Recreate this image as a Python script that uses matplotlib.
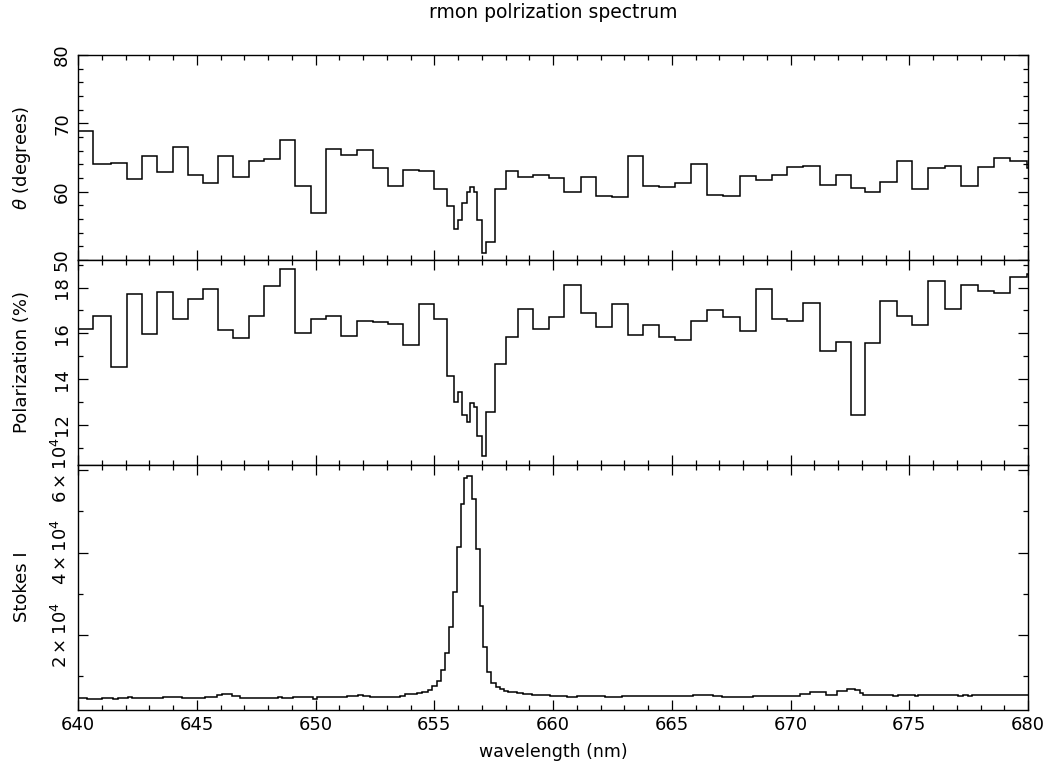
import numpy as np
import matplotlib
matplotlib.use("Agg")
import matplotlib.pyplot as plt
from matplotlib.ticker import MultipleLocator, FixedLocator

# bin edges shared by the polarization angle and degree (nm)
pol_edges = [640.0, 640.65, 641.37, 642.05, 642.71, 643.31, 643.99, 644.62, 645.28, 645.91,
             646.54, 647.2, 647.85, 648.5, 649.14, 649.8, 650.44, 651.07, 651.73, 652.4,
             653.07, 653.70, 654.37, 654.99, 655.52, 655.85, 656.01, 656.18, 656.37, 656.51,
             656.67, 656.81, 657.02, 657.18, 657.56, 658.02, 658.54, 659.17, 659.83, 660.48,
             661.17, 661.81, 662.47, 663.14, 663.80, 664.46, 665.14, 665.82, 666.5, 667.14,
             667.87, 668.53, 669.21, 669.87, 670.54, 671.24, 671.9, 672.53, 673.14, 673.77,
             674.47, 675.13, 675.8, 676.51, 677.17, 677.91, 678.57, 679.24, 679.97, 680.6]

theta = [68.9, 64.05, 64.2, 61.85, 65.2, 62.9, 66.5, 62.5, 61.2, 65.2,
         62.2, 64.5, 64.8, 67.55, 60.8, 56.9, 66.3, 65.35, 66.1, 63.4,
         60.87, 63.2, 63.0, 60.4, 57.95, 54.5, 55.8, 58.4, 59.9, 60.73,
         59.9, 55.85, 50.97, 52.6, 60.4, 63.0, 62.2, 62.5, 62.05, 60.0,
         62.1, 59.4, 59.2, 65.2, 60.87, 60.7, 61.2, 64.05, 59.56, 59.4,
         62.24, 61.7, 62.4, 63.65, 63.7, 61.0, 62.5, 60.6, 60.0, 61.37,
         64.55, 60.4, 63.5, 63.8, 60.87, 63.55, 64.87, 64.55, 63.5]

polarization = [16.2, 16.77, 14.53, 17.71, 15.96, 17.81, 16.62, 17.5, 17.96, 16.13,
                15.78, 16.77, 18.07, 18.8, 16.02, 16.62, 16.77, 15.88, 16.52, 16.48,
                16.43, 15.51, 17.27, 16.61, 14.13, 12.99, 13.43, 12.45, 12.14, 12.95,
                12.8, 11.5, 10.65, 12.55, 14.68, 15.82, 17.06, 16.21, 16.73, 18.12,
                16.87, 16.27, 17.27, 15.92, 16.37, 15.82, 15.69, 16.52, 17.02, 16.73,
                16.11, 17.96, 16.61, 16.55, 17.31, 15.22, 15.63, 12.45, 15.56, 17.42,
                16.77, 16.36, 18.31, 17.06, 18.12, 17.85, 17.75, 18.46, 18.6]

# Stokes I spectrum (step segments)
stokes_edges = [640.0, 640.37, 640.99, 641.49, 641.7, 642.12, 642.26, 643.59, 644.37, 645.35,
                645.84, 646.05, 646.47, 646.82, 648.44, 648.58, 649.07, 649.91, 650.05, 651.34,
                651.8, 652.01, 652.29, 653.56, 653.77, 654.26, 654.47, 654.75, 654.92, 655.1,
                655.27, 655.45, 655.62, 655.78, 655.94, 656.11, 656.25, 656.39, 656.58, 656.76,
                656.93, 657.07, 657.23, 657.38, 657.59, 657.77, 657.94, 658.12, 658.47, 658.75,
                659.1, 659.87, 660.58, 661.0, 662.19, 662.89, 665.91, 666.75, 667.1, 668.43,
                670.4, 670.82, 671.49, 671.97, 672.36, 672.72, 672.93, 673.07, 674.33, 674.54,
                675.24, 675.38, 677.07, 677.28, 677.49, 677.63, 680.0]

stokes_i = [4900, 4580, 4820, 4580, 4820, 5060, 4820, 5060, 4820, 5140,
            5540, 5780, 5300, 4820, 5060, 4820, 5060, 4660, 5060, 5300,
            5620, 5300, 5060, 5300, 5700, 5950, 6350, 6670, 7700, 8900,
            11640, 15580, 22000, 30360, 41370, 51730, 58070, 58480, 53000, 40960,
            27150, 17040, 11160, 8360, 7540, 6920, 6590, 6340, 6020, 5700,
            5460, 5300, 5060, 5300, 5060, 5300, 5620, 5300, 5060, 5300,
            5780, 6190, 5620, 6430, 6990, 6750, 6100, 5540, 5300, 5540,
            5300, 5540, 5300, 5540, 5300, 5540]

wl_ticks = [640, 645, 650, 655, 660, 665, 670, 675, 680]
stokes_ticks = [20000, 40000, 60000]
stokes_ticklabels = [r"$2\times10^{4}$", r"$4\times10^{4}$", r"$6\times10^{4}$"]

plt.rcParams["font.family"] = "DejaVu Sans"
plt.rcParams["mathtext.fontset"] = "dejavusans"

W, H = 1050, 769
fig = plt.figure(figsize=(W / 100, H / 100), dpi=100)

x0, x1 = 78, 1028


def make_ax(ytop, ybot):
    ax = fig.add_axes([x0 / W, 1 - ybot / H, (x1 - x0) / W, (ybot - ytop) / H])
    ax.set_xlim(640, 680)
    ax.xaxis.set_major_locator(FixedLocator(wl_ticks))
    ax.xaxis.set_minor_locator(MultipleLocator(1))
    ax.tick_params(which="both", direction="in", top=True, right=True,
                   width=0.9, labelsize=13, colors="black")
    ax.tick_params(which="major", length=7.5)
    ax.tick_params(which="minor", length=3.8)
    ax.tick_params(axis="y", pad=5)
    ax.tick_params(axis="x", pad=4)
    for s in ax.spines.values():
        s.set_linewidth(1.0)
    return ax


def rotate_ylabels(ax):
    for lab in ax.get_yticklabels():
        lab.set_rotation(90)
        lab.set_va("center")


def pad_range(vals):
    lo, hi = min(vals), max(vals)
    r = hi - lo
    return lo - 0.05 * r, hi + 0.05 * r


# theta panel
ax1 = make_ax(55, 260)
ax1.stairs(theta, pol_edges, baseline=None, color="black", lw=1.1)
ax1.set_ylim(50, 80)
ax1.yaxis.set_major_locator(MultipleLocator(10))
ax1.yaxis.set_minor_locator(MultipleLocator(2))
ax1.tick_params(axis="x", labelbottom=False)
rotate_ylabels(ax1)

# polarization panel
ax2 = make_ax(260, 465)
ax2.stairs(polarization, pol_edges, baseline=None, color="black", lw=1.1)
ax2.set_ylim(*pad_range(polarization))
ax2.yaxis.set_major_locator(MultipleLocator(2))
ax2.yaxis.set_minor_locator(MultipleLocator(1))
ax2.tick_params(axis="x", labelbottom=False)
rotate_ylabels(ax2)

# Stokes I panel
ax3 = make_ax(465, 710)
ax3.stairs(stokes_i, stokes_edges, baseline=None, color="black", lw=1.1)
ax3.set_ylim(*pad_range(stokes_i))
ax3.yaxis.set_major_locator(FixedLocator(stokes_ticks))
ax3.yaxis.set_minor_locator(MultipleLocator(10000))
ax3.set_yticklabels(stokes_ticklabels)
rotate_ylabels(ax3)

# labels
fig.text(553 / W, 1 - 13 / H, "rmon polrization spectrum", ha="center", va="center", fontsize=13.5)
fig.text(553 / W, 1 - 752 / H, "wavelength (nm)", ha="center", va="center", fontsize=12.5)
fig.text(22 / W, 1 - 158 / H, r"$\theta$ (degrees)", rotation=90, ha="center", va="center", fontsize=13)
fig.text(22 / W, 1 - 362 / H, "Polarization (%)", rotation=90, ha="center", va="center", fontsize=13)
fig.text(22 / W, 1 - 587 / H, "Stokes I", rotation=90, ha="center", va="center", fontsize=13)

fig.savefig("out.png", dpi=100)
